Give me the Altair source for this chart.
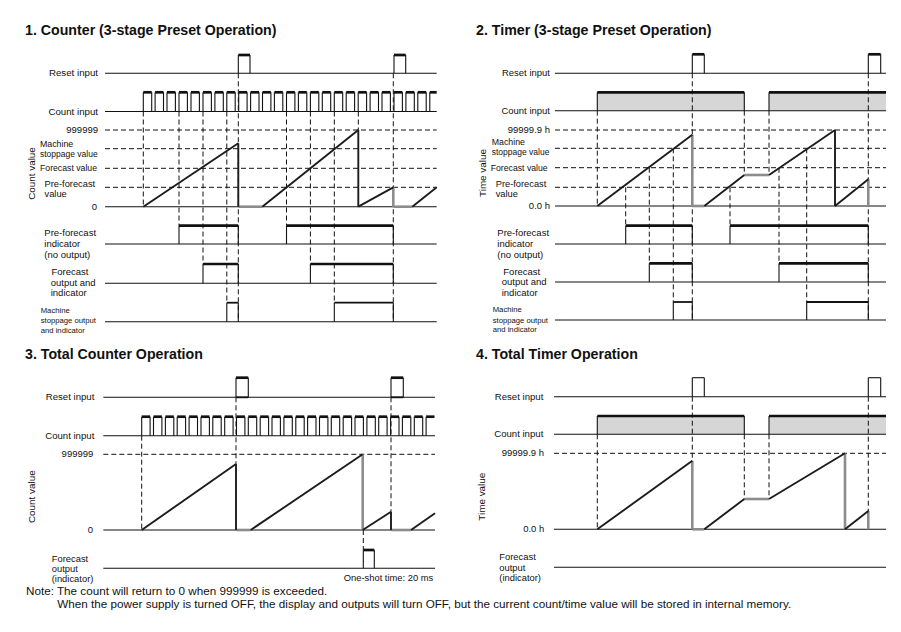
import altair as alt
import pandas as pd

# ============ values (chart coordinate space) ============
# ---- Panel 1: Counter (3-stage preset) ----
P1_LANE = (105.0, 436.7)
P1_RESET = dict(base=73.3, top=55.0, pulses=[(238.3, 250.0), (394.0, 405.7)])
P1_COUNT_RISES = [143.3, 155.1, 167.0, 179.0, 191.0, 203.0, 214.9, 226.8, 238.7,
                  250.6, 262.5, 274.4, 286.5, 298.4, 310.4, 322.3, 334.3, 346.2,
                  358.2, 370.1, 382.0, 394.0, 405.9, 417.8, 429.8]
P1_COUNT = dict(base=111.5, top=92.3, high=8.4)
P1_LEVELS = [130.0, 148.7, 168.3, 187.3]
P1_ZERO = 206.7
P1_VALUE = [(143.3, 206.7), (238.3, 143.3), (238.3, 206.7), (262.3, 206.7), (358.3, 130.0),
            (358.3, 206.7), (393.3, 187.3), (393.3, 206.7), (412.3, 206.7), (436.7, 187.3)]
P1_VALUE_STYLE = ["ramp", "ramp", "gray", "ramp", "ramp", "ramp", "gray", "gray", "ramp"]
P1_PRE = dict(base=244.0, top=225.7, pulses=[(179.0, 238.3), (286.5, 393.3)])
P1_FC = dict(base=283.3, top=264.0, pulses=[(203.0, 238.3), (310.4, 393.3)])
P1_MS = dict(base=321.7, top=302.7, pulses=[(226.8, 238.3), (334.3, 393.3)])
P1_DASH = [(143.3, 111.5, 206.7), (179.0, 111.5, 225.7), (203.0, 111.5, 264.0),
           (226.8, 111.5, 302.7), (238.3, 73.3, 321.7), (286.5, 111.5, 225.7),
           (310.4, 111.5, 264.0), (334.3, 111.5, 302.7), (358.3, 111.5, 130.0),
           (393.3, 73.3, 321.7)]

# ---- Panel 2: Timer (3-stage preset) ----
P2_LANE = (555.0, 886.0)
P2_RESET = dict(base=73.3, top=54.3, pulses=[(692.3, 704.3), (868.3, 880.7)])
P2_COUNT = dict(base=110.7, top=92.3, spans=[(597.3, 744.3), (769.0, 886.0)])
P2_LEVELS = [130.0, 148.3, 167.7, 187.3]
P2_ZERO = 206.0
P2_VALUE = [(597.3, 206.0), (692.3, 134.7), (692.3, 206.0), (704.3, 206.0), (744.3, 175.0),
            (769.0, 175.0), (835.0, 130.0), (835.0, 206.0), (868.3, 179.3), (868.3, 206.0)]
P2_VALUE_STYLE = ["ramp", "gray", "gray", "ramp", "gray", "ramp", "ramp", "ramp", "gray"]
P2_PRE = dict(base=244.0, top=225.7, pulses=[(625.7, 692.3), (730.0, 868.3)])
P2_FC = dict(base=282.0, top=263.3, pulses=[(649.3, 692.3), (779.0, 868.3)])
P2_MS = dict(base=320.0, top=302.0, pulses=[(673.3, 692.3), (806.7, 868.3)])
P2_DASH = [(597.3, 110.7, 206.0), (625.7, 187.3, 225.7), (649.3, 167.7, 263.3),
           (673.3, 148.3, 302.0), (692.3, 73.3, 320.0), (730.0, 187.3, 225.7),
           (744.3, 110.7, 175.0), (769.0, 110.7, 175.0), (779.0, 167.7, 263.3),
           (806.7, 148.3, 302.0), (868.3, 73.3, 320.0)]

# ---- Panel 3: Total counter ----
P3_LANE = (103.3, 435.0)
P3_RESET = dict(base=397.3, top=377.7, pulses=[(236.0, 248.3), (391.0, 403.3)])
P3_COUNT_RISES = [141.7, 153.5, 165.4, 177.2, 189.1, 201.0, 212.8, 224.7, 236.5,
                  248.3, 260.2, 272.0, 283.9, 295.8, 307.6, 319.5, 331.3, 343.2,
                  355.0, 366.9, 378.7, 390.6, 402.4, 414.3, 426.1]
P3_COUNT = dict(base=435.7, top=416.7, high=8.4)
P3_LEVELS = [454.3]
P3_ZERO = 530.0
P3_VALUE = [(141.7, 530.0), (236.0, 464.0), (236.0, 530.0), (250.7, 530.0), (362.7, 454.3),
            (362.7, 530.0), (391.0, 511.7), (391.0, 530.0), (411.0, 530.0), (435.0, 513.3)]
P3_VALUE_STYLE = ["ramp", "ramp", "gray", "ramp", "gray", "ramp", "ramp", "gray", "ramp"]
P3_FC = dict(base=568.3, top=550.0, pulses=[(363.3, 374.3)])
P3_DASH = [(141.7, 435.7, 530.0), (236.0, 397.3, 464.0), (391.0, 397.3, 511.7),
           (363.3, 530.0, 550.0)]

# ---- Panel 4: Total timer ----
P4_LANE = (554.0, 886.0)
P4_RESET = dict(base=396.7, top=377.7, pulses=[(692.3, 704.3), (868.3, 880.7)])
P4_COUNT = dict(base=434.3, top=416.0, spans=[(597.3, 744.3), (769.0, 886.0)])
P4_LEVELS = [453.3]
P4_ZERO = 529.3
P4_VALUE = [(597.3, 529.3), (692.3, 460.7), (692.3, 529.3), (704.3, 529.3), (744.3, 499.0),
            (769.0, 499.0), (845.0, 453.3), (845.0, 529.3), (868.3, 511.0), (868.3, 529.3)]
P4_VALUE_STYLE = ["ramp", "gray", "gray", "ramp", "gray", "ramp", "gray", "ramp", "gray"]
P4_FC_BASE = 567.3
P4_DASH = [(597.3, 434.3, 529.3), (692.3, 396.7, 460.7), (744.3, 434.3, 499.0),
           (769.0, 434.3, 499.0), (868.3, 396.7, 511.0)]

# ---- Texts: (text, x, y, align, size, weight, angle) ----
TEXTS = [
    ("1. Counter (3-stage Preset Operation)", 25, 31, "left", 14.2, "bold", 0),
    ("Reset input", 98, 73.3, "right", 9.7, "normal", 0),
    ("Count input", 98, 111.5, "right", 9.7, "normal", 0),
    ("999999", 98, 130, "right", 9.5, "normal", 0),
    ("Machine", 40, 144.3, "left", 8.8, "normal", 0),
    ("stoppage value", 40, 154, "left", 8.5, "normal", 0),
    ("Forecast value", 40, 168.3, "left", 8.7, "normal", 0),
    ("Pre-forecast", 44.5, 184.3, "left", 9.3, "normal", 0),
    ("value", 44.5, 194.3, "left", 9.3, "normal", 0),
    ("0", 97, 206.7, "right", 9.5, "normal", 0),
    ("Count value", 32, 173.5, "center", 9.9, "normal", 270),
    ("Pre-forecast", 44.3, 233.3, "left", 9.5, "normal", 0),
    ("indicator", 44.3, 244, "left", 9.5, "normal", 0),
    ("(no output)", 44.3, 254.7, "left", 9.5, "normal", 0),
    ("Forecast", 51.5, 272.3, "left", 9.5, "normal", 0),
    ("output and", 50.7, 283, "left", 9.5, "normal", 0),
    ("indicator", 50.7, 293.3, "left", 9.5, "normal", 0),
    ("Machine", 40.7, 311, "left", 7.7, "normal", 0),
    ("stoppage output", 40.7, 321, "left", 7.7, "normal", 0),
    ("and indicator", 40.7, 330.7, "left", 7.7, "normal", 0),

    ("2. Timer (3-stage Preset Operation)", 476, 31, "left", 14.2, "bold", 0),
    ("Reset input", 550, 73.3, "right", 9.5, "normal", 0),
    ("Count input", 550, 110.7, "right", 9.5, "normal", 0),
    ("99999.9 h", 550, 130, "right", 9.5, "normal", 0),
    ("Machine", 491.7, 141.7, "left", 8.8, "normal", 0),
    ("stoppage value", 491.7, 152, "left", 8.5, "normal", 0),
    ("Forecast value", 490.7, 167.7, "left", 8.7, "normal", 0),
    ("Pre-forecast", 495.7, 184, "left", 9.3, "normal", 0),
    ("value", 495.7, 194, "left", 9.3, "normal", 0),
    ("0.0 h", 550, 206, "right", 9.5, "normal", 0),
    ("Time value", 483.3, 173, "center", 9.9, "normal", 270),
    ("Pre-forecast", 497.3, 233.3, "left", 9.5, "normal", 0),
    ("indicator", 497.3, 244, "left", 9.5, "normal", 0),
    ("(no output)", 497.3, 254.7, "left", 9.5, "normal", 0),
    ("Forecast", 503.3, 271.7, "left", 9.5, "normal", 0),
    ("output and", 501.7, 282, "left", 9.5, "normal", 0),
    ("indicator", 501.7, 292.7, "left", 9.5, "normal", 0),
    ("Machine", 492.7, 310, "left", 7.7, "normal", 0),
    ("stoppage output", 492.7, 320.7, "left", 7.7, "normal", 0),
    ("and indicator", 492.7, 330, "left", 7.7, "normal", 0),

    ("3. Total Counter Operation", 25, 355, "left", 14.2, "bold", 0),
    ("Reset input", 94.3, 397.3, "right", 9.6, "normal", 0),
    ("Count input", 94.3, 435.7, "right", 9.6, "normal", 0),
    ("999999", 93.3, 454.3, "right", 9.5, "normal", 0),
    ("0", 93, 530, "right", 9.5, "normal", 0),
    ("Count value", 32.3, 496.7, "center", 9.9, "normal", 270),
    ("Forecast", 51.7, 559, "left", 9.4, "normal", 0),
    ("output", 51.7, 569, "left", 9.4, "normal", 0),
    ("(indicator)", 51.7, 579, "left", 9.4, "normal", 0),
    ("One-shot time: 20 ms", 433.3, 578.3, "right", 9.4, "normal", 0),

    ("4. Total Timer Operation", 476, 355, "left", 14.2, "bold", 0),
    ("Reset input", 543.3, 396.7, "right", 9.6, "normal", 0),
    ("Count input", 543.3, 434.3, "right", 9.6, "normal", 0),
    ("99999.9 h", 544, 453.3, "right", 9.5, "normal", 0),
    ("0.0 h", 544.3, 529.3, "right", 9.5, "normal", 0),
    ("Time value", 482.3, 496.7, "center", 9.9, "normal", 270),
    ("Forecast", 499.3, 557.3, "left", 9.4, "normal", 0),
    ("output", 499.3, 568.3, "left", 9.4, "normal", 0),
    ("(indicator)", 499.3, 577.7, "left", 9.4, "normal", 0),

    ("Note: The count will return to 0 when 999999 is exceeded.", 26, 591, "left", 11.7, "normal", 0),
    ("When the power supply is turned OFF, the display and outputs will turn OFF, "
     "but the current count/time value will be stored in internal memory.", 57.3, 604, "left", 11.7, "normal", 0),
]

# ============ build segment tables ============
segs = []   # (x, y, x2, y2, style)
rects = []  # (x, x2, y, y2)


def lane(lane_x, base, top=None, pulses=(), top_style="thick", bottom_style=None):
    x0, x1 = lane_x
    segs.append((x0, base, x1, base, "thin"))
    for a, b in pulses:
        segs.append((a, base, a, top, "thin"))
        segs.append((a, top, b, top, top_style))
        if b < x1 - 0.5:
            segs.append((b, top, b, base, "thin"))
        if bottom_style:
            segs.append((a, base, b, base, bottom_style))


def clock(lane_x, base, top, rises, high):
    lane(lane_x, base, top, [(r, min(r + high, lane_x[1])) for r in rises])


def level_input(lane_x, base, top, spans):
    segs.append((lane_x[0], base, lane_x[1], base, "thin"))
    for a, b in spans:
        rects.append((a, b, top, base))
        segs.append((a, base, a, top, "thin"))
        segs.append((a, top, b, top, "thick"))
        if b < lane_x[1] - 0.5:
            segs.append((b, top, b, base, "thin"))


def levels(lane_x, ys, zero):
    for y in ys:
        segs.append((lane_x[0], y, lane_x[1], y, "dash"))
    segs.append((lane_x[0], zero, lane_x[1], zero, "thin"))


def path(pts, styles):
    for p, q, s in zip(pts[:-1], pts[1:], styles):
        segs.append((p[0], p[1], q[0], q[1], s))


def dashes(lst):
    for x, y0, y1 in lst:
        segs.append((x, y0, x, y1, "dash"))


# panel 1
dashes(P1_DASH)
lane(P1_LANE, P1_RESET["base"], P1_RESET["top"], P1_RESET["pulses"])
clock(P1_LANE, P1_COUNT["base"], P1_COUNT["top"], P1_COUNT_RISES, P1_COUNT["high"])
levels(P1_LANE, P1_LEVELS, P1_ZERO)
path(P1_VALUE, P1_VALUE_STYLE)
lane(P1_LANE, P1_PRE["base"], P1_PRE["top"], P1_PRE["pulses"])
lane(P1_LANE, P1_FC["base"], P1_FC["top"], P1_FC["pulses"])
lane(P1_LANE, P1_MS["base"], P1_MS["top"], P1_MS["pulses"], top_style="medium")
# panel 2
dashes(P2_DASH)
lane(P2_LANE, P2_RESET["base"], P2_RESET["top"], P2_RESET["pulses"])
level_input(P2_LANE, P2_COUNT["base"], P2_COUNT["top"], P2_COUNT["spans"])
levels(P2_LANE, P2_LEVELS, P2_ZERO)
path(P2_VALUE, P2_VALUE_STYLE)
lane(P2_LANE, P2_PRE["base"], P2_PRE["top"], P2_PRE["pulses"])
lane(P2_LANE, P2_FC["base"], P2_FC["top"], P2_FC["pulses"])
lane(P2_LANE, P2_MS["base"], P2_MS["top"], P2_MS["pulses"], top_style="medium")
# panel 3
dashes(P3_DASH)
lane(P3_LANE, P3_RESET["base"], P3_RESET["top"], P3_RESET["pulses"], bottom_style="medium")
clock(P3_LANE, P3_COUNT["base"], P3_COUNT["top"], P3_COUNT_RISES, P3_COUNT["high"])
levels(P3_LANE, P3_LEVELS, P3_ZERO)
path(P3_VALUE, P3_VALUE_STYLE)
lane(P3_LANE, P3_FC["base"], P3_FC["top"], P3_FC["pulses"])
# panel 4
dashes(P4_DASH)
lane(P4_LANE, P4_RESET["base"], P4_RESET["top"], P4_RESET["pulses"], top_style="thin")
level_input(P4_LANE, P4_COUNT["base"], P4_COUNT["top"], P4_COUNT["spans"])
levels(P4_LANE, P4_LEVELS, P4_ZERO)
path(P4_VALUE, P4_VALUE_STYLE)
lane(P4_LANE, P4_FC_BASE)

seg_df = pd.DataFrame(segs, columns=["x", "y", "x2", "y2", "style"])
rect_df = pd.DataFrame(rects, columns=["x", "x2", "y", "y2"])
text_df = pd.DataFrame(TEXTS, columns=["text", "x", "y", "align", "size", "weight", "angle"])

# ============ chart ============
XS = alt.Scale(domain=[8, 893], nice=False, zero=False)
YS = alt.Scale(domain=[8, 624], reverse=True, nice=False, zero=False)

STYLES = {
    "dash": dict(color="#111111", strokeWidth=1.0, strokeDash=[5, 3]),
    "thin": dict(color="#111111", strokeWidth=1.1),
    "gray": dict(color="#8c8c8c", strokeWidth=2.6),
    "ramp": dict(color="#1c1c1c", strokeWidth=1.9),
    "medium": dict(color="#111111", strokeWidth=1.8),
    "thick": dict(color="#111111", strokeWidth=2.7),
}

layers = [
    alt.Chart(rect_df).mark_rect(color="#d6d6d6").encode(
        x=alt.X("x:Q", scale=XS, axis=None), x2="x2:Q",
        y=alt.Y("y:Q", scale=YS, axis=None), y2="y2:Q")
]
for name, st in STYLES.items():
    sub = seg_df[seg_df["style"] == name]
    if len(sub) == 0:
        continue
    layers.append(
        alt.Chart(sub).mark_rule(**st).encode(
            x=alt.X("x:Q", scale=XS, axis=None), x2="x2:Q",
            y=alt.Y("y:Q", scale=YS, axis=None), y2="y2:Q")
    )

for (align, size, weight, angle), sub in text_df.groupby(["align", "size", "weight", "angle"]):
    layers.append(
        alt.Chart(sub).mark_text(font="Liberation Sans", align=align, baseline="middle",
                                 fontSize=float(size), fontWeight=weight, angle=int(angle),
                                 color="#111111").encode(
            x=alt.X("x:Q", scale=XS, axis=None),
            y=alt.Y("y:Q", scale=YS, axis=None),
            text="text:N")
    )

chart = alt.layer(*layers).properties(
    width=885, height=616, padding=0,
    autosize=alt.AutoSizeParams(type="none"),
    background="white",
).configure_view(stroke=None)

chart.save("out.html", embed_options={"renderer": "svg", "actions": False})
